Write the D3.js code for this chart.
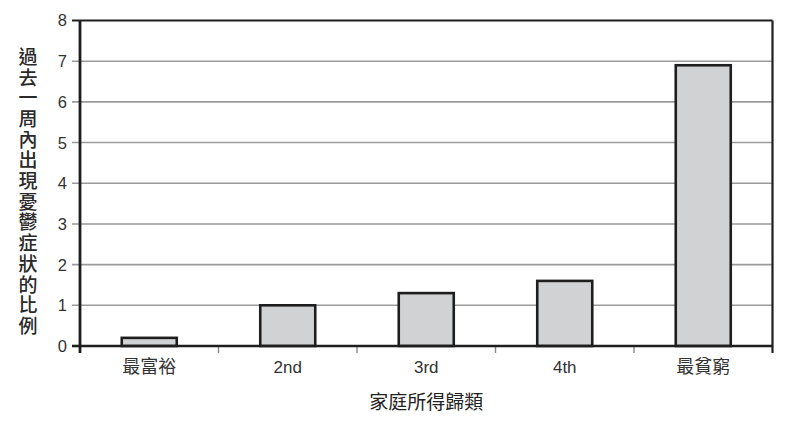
<!DOCTYPE html>
<html><head><meta charset="utf-8">
<script src="https://cdn.jsdelivr.net/npm/d3@7"></script>
<style>body{margin:0;background:#fff}</style>
</head><body>
<svg id="c" width="792" height="425"></svg>
<script>
const categories = ["最富裕", "2nd", "3rd", "4th", "最貧窮"];
const values = [0.2, 1.0, 1.3, 1.6, 6.9];
const yTicks = [0, 1, 2, 3, 4, 5, 6, 7, 8];
const yTitle = "過去一周內出現憂鬱症狀的比例";
const xTitle = "家庭所得歸類";

const svg = d3.select("#c");
const L = 80, R = 772.5, T = 20.5, B = 346;
const font = "'Liberation Sans', Arial, 'Noto Sans CJK TC', sans-serif";
const cjk = "'Noto Sans CJK TC', sans-serif";
const x = d3.scaleBand().domain(categories).range([L, R]).paddingInner(0).paddingOuter(0);
const y = d3.scaleLinear().domain([0, 8]).range([B, T]);

// gridlines
svg.append("g").selectAll("line").data(yTicks.filter(d => d > 0 && d < 8)).join("line")
  .attr("x1", L - 8).attr("x2", R).attr("y1", d => y(d)).attr("y2", d => y(d))
  .attr("stroke", "#9a9a9a").attr("stroke-width", 1.6);

// y tick labels
svg.append("g").selectAll("text").data(yTicks).join("text")
  .attr("x", 67).attr("y", d => y(d)).attr("dy", "0.36em")
  .attr("text-anchor", "end").attr("font-family", font).attr("font-size", 16.5)
  .attr("fill", "#333").text(d => d);

// bars
svg.append("g").selectAll("rect").data(values).join("rect")
  .attr("x", (d, i) => x(categories[i]) + x.bandwidth() / 2 - 27.5)
  .attr("width", 55)
  .attr("y", d => y(d)).attr("height", d => B - y(d))
  .attr("fill", "#d1d2d4").attr("stroke", "#1e1e1e").attr("stroke-width", 2.6);

// frame: top line, right line
svg.append("line").attr("x1", L - 8).attr("x2", R).attr("y1", T).attr("y2", T)
  .attr("stroke", "#1e1e1e").attr("stroke-width", 2.2);
svg.append("line").attr("x1", R).attr("x2", R).attr("y1", T).attr("y2", B + 7)
  .attr("stroke", "#1e1e1e").attr("stroke-width", 2.2);
// y-axis
svg.append("line").attr("x1", L).attr("x2", L).attr("y1", T).attr("y2", B + 7)
  .attr("stroke", "#1e1e1e").attr("stroke-width", 2.8);
// y tick for 0
svg.append("line").attr("x1", L - 8).attr("x2", L).attr("y1", B).attr("y2", B)
  .attr("stroke", "#1e1e1e").attr("stroke-width", 2.6);
// x ticks at category boundaries
svg.append("g").selectAll("line").data(categories.slice(1)).join("line")
  .attr("x1", d => x(d)).attr("x2", d => x(d)).attr("y1", B).attr("y2", B + 7)
  .attr("stroke", "#888").attr("stroke-width", 1.4);
// x-axis baseline
svg.append("line").attr("x1", L).attr("x2", R).attr("y1", B).attr("y2", B)
  .attr("stroke", "#1e1e1e").attr("stroke-width", 2.6);

// x labels
svg.append("g").selectAll("text").data(categories).join("text")
  .attr("x", d => x(d) + x.bandwidth() / 2).attr("y", 367).attr("dy", "0.36em")
  .attr("text-anchor", "middle")
  .attr("font-family", d => /[a-z0-9]/.test(d) ? font : cjk)
  .attr("font-size", d => /[a-z0-9]/.test(d) ? 17 : 18)
  .attr("fill", "#333").text(d => d);

// x title
svg.append("text").attr("x", (L + R) / 2).attr("y", 402).attr("dy", "0.36em")
  .attr("text-anchor", "middle").attr("font-family", cjk).attr("font-size", 19)
  .attr("fill", "#222").text(xTitle);

// y title (vertical, stacked chars)
const yt = svg.append("text").attr("font-family", cjk).attr("font-size", 19)
  .attr("font-weight", 500).attr("fill", "#2a2a2a").attr("text-anchor", "middle");
yt.selectAll("tspan").data(Array.from(yTitle)).join("tspan")
  .attr("x", 28).attr("y", (d, i) => 57 + i * 20.7).attr("dy", "0.36em").text(d => d);
</script>
</body></html>
